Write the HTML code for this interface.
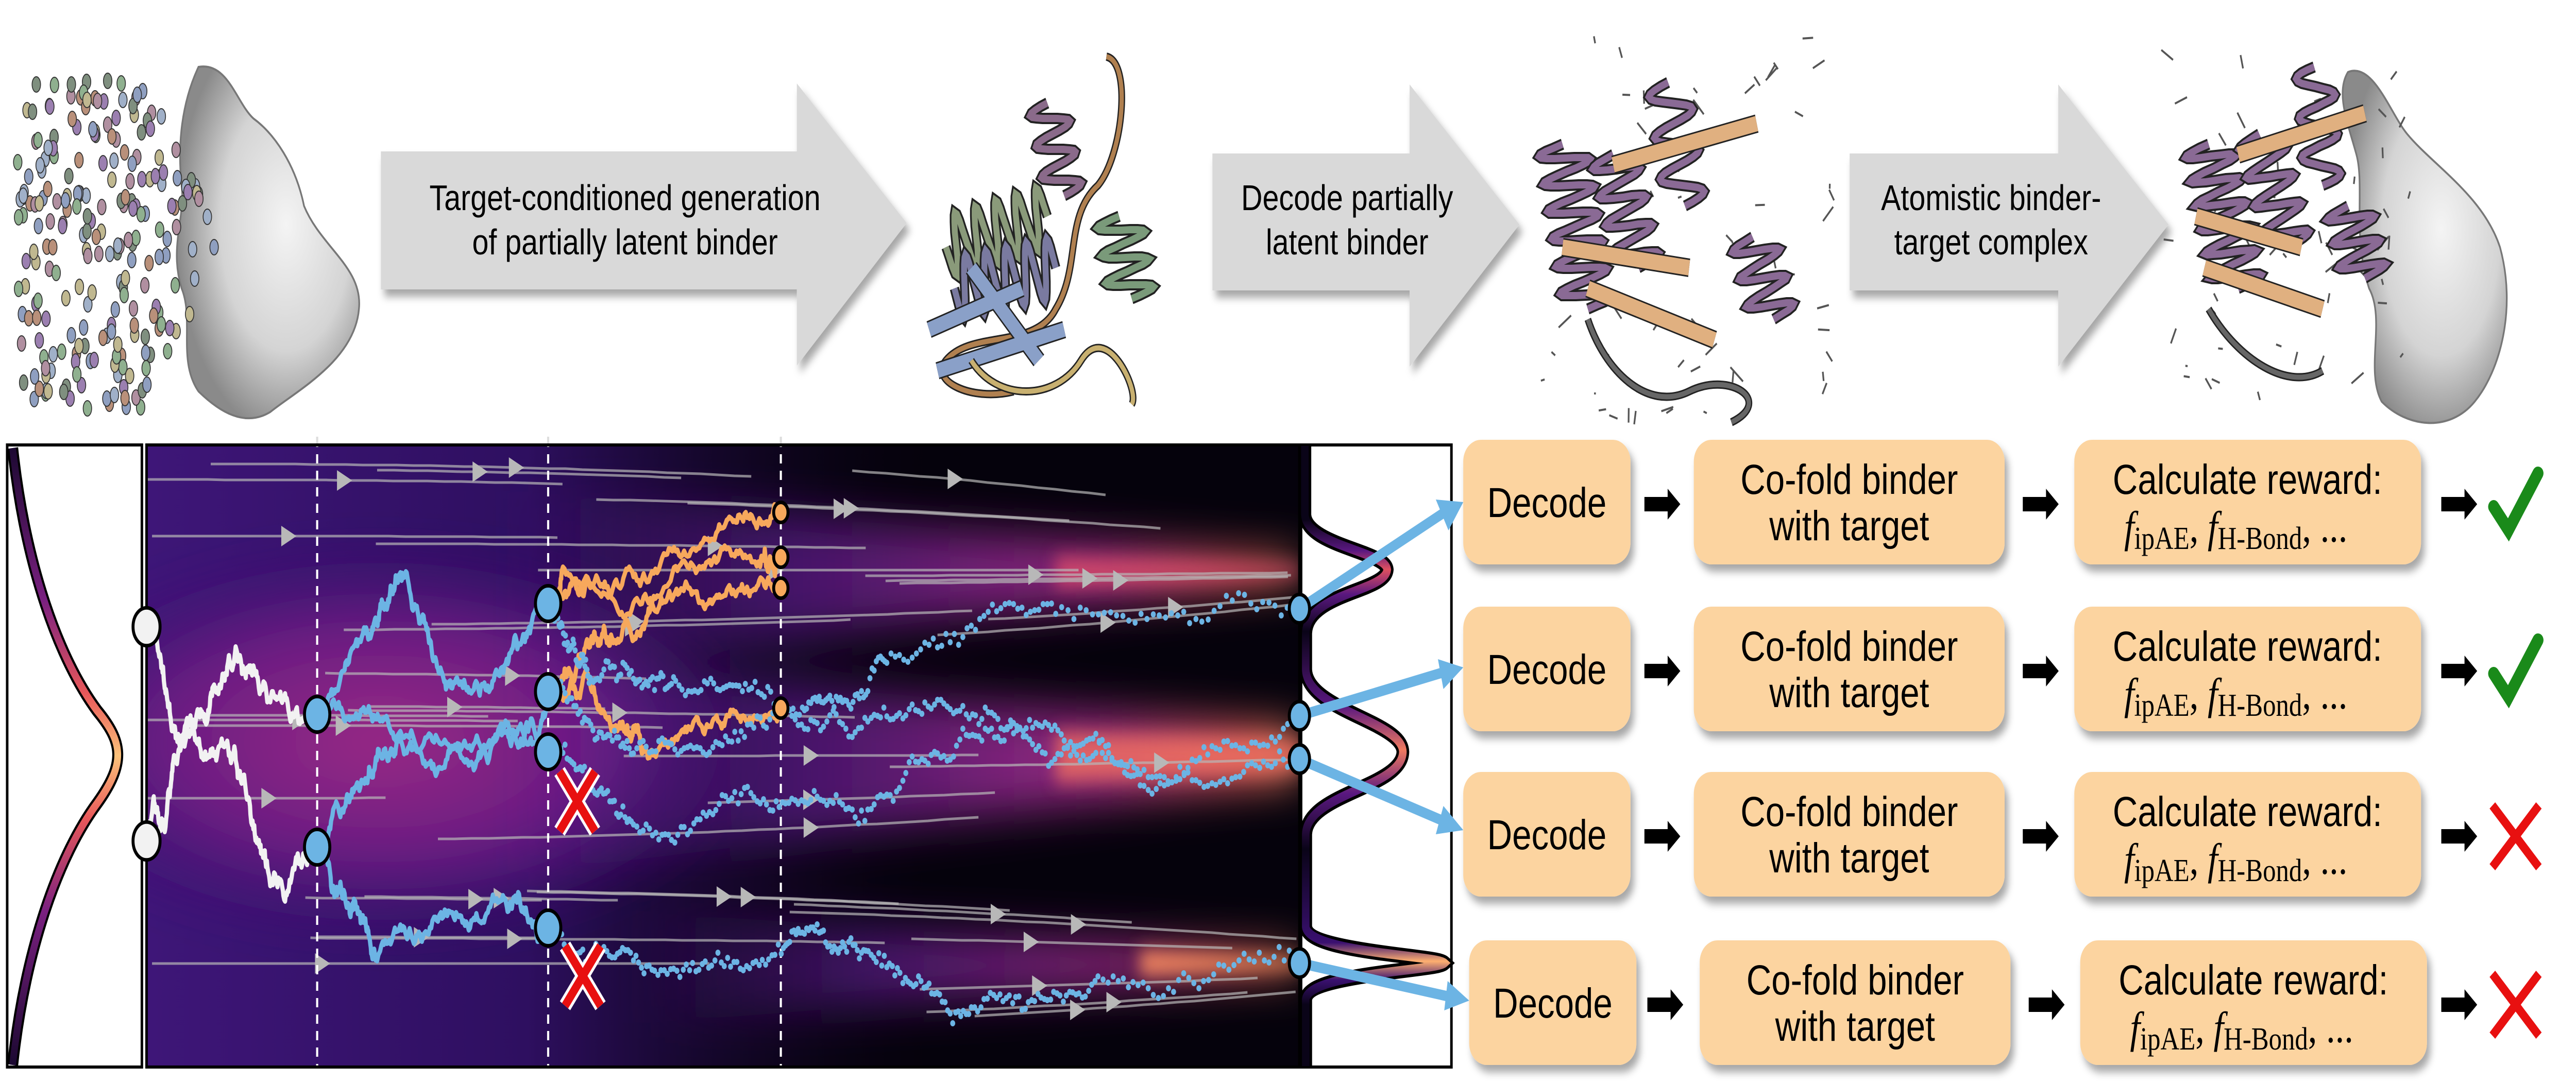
<!DOCTYPE html>
<html><head><meta charset="utf-8"><style>
html,body{margin:0;padding:0;background:#fff;width:100%;height:100%;overflow:hidden;}
svg{display:block;position:absolute;left:0;top:0;width:100vw;height:100vh;}
.bt{font-family:"Liberation Sans",sans-serif;font-size:82px;fill:#000;}
.at{font-family:"Liberation Sans",sans-serif;font-size:70px;fill:#000;}
.mf{font-family:"Liberation Serif",serif;font-size:86px;fill:#000;}
</style></head><body>
<svg id="s" xmlns="http://www.w3.org/2000/svg" viewBox="0 0 6100 2103" preserveAspectRatio="none">
<defs>
<filter id="blur" x="-50%" y="-50%" width="200%" height="200%"><feGaussianBlur stdDeviation="45"/></filter>
<filter id="blur2" x="-50%" y="-50%" width="200%" height="200%"><feGaussianBlur stdDeviation="18"/></filter>
<filter id="sh" x="-5%" y="-5%" width="112%" height="125%"><feDropShadow dx="8" dy="14" stdDeviation="8" flood-color="#000" flood-opacity="0.35"/></filter>
<linearGradient id="bandg" x1="0" x2="1" y1="0" y2="0">
<stop offset="0" stop-color="#5a1a8a" stop-opacity="0"/>
<stop offset="0.35" stop-color="#5a1a8a" stop-opacity="0.7"/>
<stop offset="0.75" stop-color="#9a2a80"/>
<stop offset="0.95" stop-color="#f06a60"/>
<stop offset="1" stop-color="#ff9a70"/>
</linearGradient>
<linearGradient id="leftfade" x1="0" x2="1" y1="0" y2="0">
<stop offset="0" stop-color="#3e1678"/>
<stop offset="0.45" stop-color="#2e0f60"/>
<stop offset="0.75" stop-color="#140628" stop-opacity="0.6"/>
<stop offset="1" stop-color="#000" stop-opacity="0"/>
</linearGradient>
<radialGradient id="midg" cx="0.5" cy="0.5" r="0.5">
<stop offset="0" stop-color="#9a2a85"/>
<stop offset="0.6" stop-color="#681c82"/>
<stop offset="1" stop-color="#3a1270" stop-opacity="0"/>
</radialGradient>
<linearGradient id="ldens" x1="0" x2="0" y1="864" y2="2072" gradientUnits="userSpaceOnUse">
<stop offset="0" stop-color="#1a0830"/>
<stop offset="0.25" stop-color="#7a2080"/>
<stop offset="0.4" stop-color="#e8585a"/>
<stop offset="0.5" stop-color="#fcc27a"/>
<stop offset="0.6" stop-color="#e8585a"/>
<stop offset="0.75" stop-color="#7a2080"/>
<stop offset="1" stop-color="#1a0830"/>
</linearGradient>
<linearGradient id="rdens" x1="0" x2="0" y1="864" y2="2072" gradientUnits="userSpaceOnUse">
<stop offset="0.12" stop-color="#0a0418"/>
<stop offset="0.17" stop-color="#5a1880"/>
<stop offset="0.2" stop-color="#e05060"/>
<stop offset="0.24" stop-color="#5a1880"/>
<stop offset="0.3" stop-color="#0a0418"/>
<stop offset="0.42" stop-color="#5a1880"/>
<stop offset="0.49" stop-color="#f07a60"/>
<stop offset="0.56" stop-color="#5a1880"/>
<stop offset="0.65" stop-color="#0a0418"/>
<stop offset="0.8" stop-color="#3a1070"/>
<stop offset="0.83" stop-color="#ffb070"/>
<stop offset="0.86" stop-color="#3a1070"/>
<stop offset="0.9" stop-color="#0a0418"/>
</linearGradient>
<radialGradient id="surf" cx="0.6" cy="0.45" r="0.6">
<stop offset="0" stop-color="#f4f4f4"/>
<stop offset="0.6" stop-color="#d4d4d4"/>
<stop offset="1" stop-color="#8a8a8a"/>
</radialGradient>
<clipPath id="mainclip"><rect x="347" y="864" width="2730" height="1208"/></clipPath>
<clipPath id="all"><rect x="0" y="0" width="6100" height="2103"/></clipPath>
</defs>
<g clip-path="url(#all)">
<g filter="url(#sh)" fill="#d9d9d9">
<polygon points="902,294 1887,294 1887,162 2147,433 1887,710 1887,562 902,562"/>
<polygon points="2871,298 3338,298 3338,164 3598,436 3338,712 3338,564 2871,564"/>
<polygon points="4380,298 4874,298 4874,164 5135,436 4874,712 4874,564 4380,564"/>
</g>
<text class="at" x="1480" y="408" text-anchor="middle">Target-conditioned generation</text>
<text class="at" x="1480" y="494" text-anchor="middle">of partially latent binder</text>
<text class="at" x="3190" y="408" text-anchor="middle">Decode partially</text>
<text class="at" x="3190" y="494" text-anchor="middle">latent binder</text>
<text class="at" x="4715" y="408" text-anchor="middle">Atomistic binder-</text>
<text class="at" x="4715" y="494" text-anchor="middle">target complex</text>

<path d="M470,130 C540,120 560,200 600,230 C650,260 700,320 720,400 C760,480 860,520 850,600 C840,700 700,760 640,800 C580,830 520,800 470,760 C420,700 460,620 430,560 C400,480 440,420 430,360 C420,280 430,200 470,130Z" fill="url(#surf)" stroke="#777" stroke-width="4"/>
<path d="M5560,140 C5620,120 5660,220 5700,260 C5760,320 5880,380 5920,480 C5960,600 5920,720 5860,780 C5800,840 5700,830 5640,780 C5600,720 5650,620 5610,560 C5570,460 5600,360 5580,300 C5560,240 5530,180 5560,140Z" fill="url(#surf)" stroke="#777" stroke-width="4"/>
<g id="spheres"></g>
<g id="prots"></g>

<rect x="17" y="864" width="319" height="1208" fill="#fff" stroke="#000" stroke-width="6"/>
<path d="M30,870 C60,1100 140,1280 230,1380 C290,1440 300,1480 230,1560 C140,1660 60,1840 30,2068" fill="none" stroke="#000" stroke-width="26"/>
<path d="M30,870 C60,1100 140,1280 230,1380 C290,1440 300,1480 230,1560 C140,1660 60,1840 30,2068" fill="none" stroke="url(#ldens)" stroke-width="16"/>

<g clip-path="url(#mainclip)">
<rect x="347" y="864" width="2730" height="1208" fill="#05020c"/>
<rect x="347" y="864" width="2000" height="1208" fill="url(#leftfade)"/>
<ellipse cx="900" cy="1440" rx="900" ry="380" fill="url(#midg)" filter="url(#blur)"/>
<g filter="url(#blur)">
<polygon points="1200,950 3077,1090 3077,1125 1200,1300" fill="url(#bandg)"/>
<polygon points="1200,1280 3077,1420 3077,1510 1200,1700" fill="url(#bandg)"/>
<polygon points="1500,1770 3077,1855 3077,1885 1500,1990" fill="url(#bandg)"/>
</g>
<g filter="url(#blur2)">
<polygon points="2500,1080 3077,1098 3077,1118 2500,1140" fill="#e0506a" opacity="0.8"/>
<polygon points="2500,1420 3077,1440 3077,1495 2500,1520" fill="#f07060" opacity="0.8"/>
<polygon points="2700,1845 3077,1860 3077,1880 2700,1895" fill="#ff9060" opacity="0.9"/>
</g>
<g id="stream"></g>
<g stroke="#fff" stroke-width="5" stroke-dasharray="18 14">
<line x1="751" y1="850" x2="751" y2="2072"/><line x1="1298" y1="850" x2="1298" y2="2072"/><line x1="1849" y1="850" x2="1849" y2="2072"/>
</g>
<g id="walks"></g>
</g>
<g stroke="#ddd" stroke-width="5" stroke-dasharray="18 14">
<line x1="751" y1="848" x2="751" y2="864"/><line x1="1298" y1="848" x2="1298" y2="864"/><line x1="1849" y1="848" x2="1849" y2="864"/>
</g>
<rect x="347" y="864" width="2730" height="1208" fill="none" stroke="#000" stroke-width="6"/>

<rect x="3081" y="864" width="356" height="1208" fill="#fff" stroke="#000" stroke-width="6"/>
<path d="M3090,866 L3090,1000 C3095,1060 3280,1070 3285,1106 C3280,1150 3095,1150 3092,1230 L3092,1300 C3095,1380 3320,1400 3322,1460 C3320,1530 3095,1540 3092,1620 L3092,1800 C3100,1850 3400,1855 3420,1870 C3400,1885 3100,1890 3092,1940 L3092,2070" fill="none" stroke="#000" stroke-width="30"/>
<path d="M3090,866 L3090,1000 C3095,1060 3280,1070 3285,1106 C3280,1150 3095,1150 3092,1230 L3092,1300 C3095,1380 3320,1400 3322,1460 C3320,1530 3095,1540 3092,1620 L3092,1800 C3100,1850 3400,1855 3420,1870 C3400,1885 3100,1890 3092,1940 L3092,2070" fill="none" stroke="url(#rdens)" stroke-width="18"/>

<g stroke="#6cb4e4" stroke-width="20" fill="#6cb4e4">
<line x1="3077" y1="1182" x2="3420" y2="995"/>
<line x1="3077" y1="1390" x2="3420" y2="1305"/>
<line x1="3077" y1="1474" x2="3420" y2="1595"/>
<line x1="3077" y1="1870" x2="3430" y2="1935"/>
</g>
<g fill="#6cb4e4">
<polygon points="3465,975 3400,970 3430,1030"/>
<polygon points="3465,1296 3405,1280 3418,1338"/>
<polygon points="3465,1612 3418,1565 3400,1620"/>
<polygon points="3479,1943 3428,1905 3420,1962"/>
</g>
<g id="ends"></g>
<g id="boxes"></g>
</g>
</svg>
<script>
var NS="http://www.w3.org/2000/svg";
function el(p,t,a){var e=document.createElementNS(NS,t);for(var k in a)e.setAttribute(k,a[k]);p.appendChild(e);return e;}
var seed=12345;function r(){seed=(seed*16807)%2147483647;return (seed-1)/2147483646;}
var $=function(id){return document.getElementById(id);};

var rows=[[854,0],[1178,0],[1499,0],[1826,14]];
var B=$("boxes");
rows.forEach(function(rw,i){
 var y=rw[0],dx=rw[1],h=242;
 var g=el(B,"g",{});
 [[3465,396],[4011,736],[4912,821]].forEach(function(b){el(g,"rect",{x:b[0]+dx,y:y,width:b[1],height:h,rx:42,fill:"#fcd4a0",filter:"url(#sh)"});});
 el(g,"text",{x:3663+dx,y:y+150,"text-anchor":"middle","class":"bt"}).textContent="Decode";
 el(g,"text",{x:4379+dx,y:y+105,"text-anchor":"middle","class":"bt"}).textContent="Co-fold binder";
 el(g,"text",{x:4379+dx,y:y+195,"text-anchor":"middle","class":"bt"}).textContent="with target";
 el(g,"text",{x:5322+dx,y:y+105,"text-anchor":"middle","class":"bt"}).textContent="Calculate reward:";
 var t=el(g,"text",{x:5030+dx,y:y+198,"class":"mf"});
 t.innerHTML='<tspan font-style="italic">f</tspan><tspan font-size="62" dy="14">ipAE</tspan><tspan dy="-14">, </tspan><tspan font-style="italic">f</tspan><tspan font-size="62" dy="14">H-Bond</tspan><tspan dy="-14">, ...</tspan>';
 var cy=y+125;
 [[3894+dx/2],[4790+dx],[5781]].forEach(function(a){var x=a[0];el(g,"polygon",{points:(x)+","+(cy-14)+" "+(x+55)+","+(cy-14)+" "+(x+55)+","+(cy-30)+" "+(x+85)+","+cy+" "+(x+55)+","+(cy+30)+" "+(x+55)+","+(cy+14)+" "+x+","+(cy+14),fill:"#000"});});
 if(i<2){el(g,"path",{d:"M5905,"+(cy+5)+" L5940,"+(cy+50)+" L6010,"+(cy-60),fill:"none",stroke:"#1a8a1a","stroke-width":26,"stroke-linecap":"round"});}
 else{drawX(g,5957,cy,55,60);}
});
function drawX(g,cx,cy,w,h){
 ["#fff","#e81010"].forEach(function(c,k){var sw=k?18:30;
 el(g,"line",{x1:cx-w,y1:cy-h,x2:cx+w,y2:cy+h,stroke:c,"stroke-width":sw});
 el(g,"line",{x1:cx+w,y1:cy-h,x2:cx-w,y2:cy+h,stroke:c,"stroke-width":sw});});
}

var S=$("stream");var att=[1106,1460,1870];
for(var i=0;i<40;i++){
 var xs=347+r()*2200-200, ys=870+r()*1200, len=500+r()*900;
 var xe=Math.min(3077,xs+len);
 var tgt=att.reduce(function(a,b){return Math.abs(b-ys)<Math.abs(a-ys)?b:a;});
 var pts=[];
 for(var x=xs;x<=xe;x+=40){var t=(x-347)/2730;t=Math.max(0,t);var y=ys+(tgt-ys)*Math.pow(t,2.5)*0.6;pts.push(x.toFixed(0)+","+y.toFixed(0));}
 el(S,"polyline",{points:pts.join(" "),fill:"none",stroke:"#b8b8b8","stroke-width":5,opacity:0.7});
 var mi=Math.floor(pts.length*(0.3+r()*0.4));var p=pts[mi]?pts[mi].split(","):null;
 if(p){var px=+p[0],py=+p[1];el(S,"polygon",{points:(px-14)+","+(py-20)+" "+(px+22)+","+py+" "+(px-14)+","+(py+20),fill:"#b8b8b8"});}
}

var W=$("walks");
function walk(wp,n,amp){var out=[];
 for(var s=0;s<wp.length-1;s++){var a=wp[s],b=wp[s+1];var ws=[0],w=0;for(var i=1;i<=n;i++){w+=(r()-0.5)*amp;ws.push(w);}
  for(var i=(s?1:0);i<=n;i++){var t=i/n;out.push([a[0]+(b[0]-a[0])*t,a[1]+(b[1]-a[1])*t+ws[i]-t*ws[n]]);}}
 return out;}
function line(wp,c,n,amp){el(W,"polyline",{points:walk(wp,n,amp).map(function(p){return p[0].toFixed(0)+","+p[1].toFixed(0);}).join(" "),fill:"none",stroke:c,"stroke-width":10,"stroke-linejoin":"round"});}
function dots(wp,n,amp){walk(wp,n,amp).forEach(function(p){el(W,"circle",{cx:p[0].toFixed(0),cy:(p[1]+(r()-0.5)*14).toFixed(0),r:6,fill:"#6cb4e4"});});}
var WH="#f2f2f2",BL="#6cb4e4",OR="#f7a85c";
line([[347,1217],[420,1440],[520,1330],[620,1340],[751,1387]],WH,60,30);
line([[347,1633],[410,1480],[540,1450],[640,1720],[751,1645]],WH,60,30);
line([[751,1387],[880,1230],[955,1122],[1060,1330],[1200,1280],[1298,1172]],BL,50,28);
line([[751,1387],[900,1400],[1050,1490],[1200,1420],[1298,1343]],BL,50,26);
line([[751,1645],[870,1520],[940,1430],[1150,1450],[1298,1460]],BL,50,26);
line([[751,1645],[830,1780],[890,1862],[1050,1780],[1200,1760],[1298,1802]],BL,50,26);
line([[1298,1172],[1330,1110],[1500,1120],[1700,1030],[1849,995]],OR,50,24);
line([[1298,1172],[1400,1140],[1600,1100],[1800,1100],[1849,1082]],OR,50,24);
line([[1298,1343],[1380,1320],[1480,1420],[1540,1460],[1700,1400],[1849,1375]],OR,50,22);
line([[1298,1343],[1380,1280],[1450,1240],[1560,1180],[1700,1160],[1849,1142]],OR,50,22);
dots([[1298,1172],[1400,1320],[1600,1320],[1900,1380],[2100,1280],[2500,1190],[3077,1182]],40,30);
dots([[1298,1343],[1500,1460],[1800,1400],[2100,1390],[2400,1420],[2700,1500],[3077,1390]],40,30);
dots([[1298,1460],[1500,1600],[1800,1560],[2100,1540],[2400,1410],[2700,1520],[3077,1474]],40,30);
dots([[1298,1802],[1550,1880],[1850,1850],[2050,1840],[2300,1960],[2600,1900],[3077,1870]],40,30);
function circ(p,x,y,rr,f){el(p,"ellipse",{cx:x,cy:y,rx:rr,ry:rr*1.15,fill:f,stroke:"#000","stroke-width":7});}
circ(W,751,1387,30,BL);circ(W,751,1645,30,BL);
circ(W,1298,1172,30,BL);circ(W,1298,1343,30,BL);circ(W,1298,1460,30,BL);circ(W,1298,1802,30,BL);
[995,1082,1142,1375].forEach(function(y){circ(W,1849,y,17,OR);});
drawX(W,1367,1556,42,58);drawX(W,1380,1895,42,58);
var E=$("ends");
circ(E,347,1217,32,"#f2f2f2");circ(E,347,1633,32,"#f2f2f2");
[1182,1390,1474,1870].forEach(function(y){circ(E,3077,y,24,BL);});

var SP=$("spheres");var cols=["#9b7fb0","#8f9fc0","#b9907a","#8fb08f","#c0b890","#7f8f7f","#a0b0c8","#b08fa0"];
for(var i=0;i<230;i++){var y=150+r()*650;var dx=Math.abs(y-470)/330;var x=20+r()*(520-dx*250)+dx*40;
 el(SP,"ellipse",{cx:x.toFixed(0),cy:y.toFixed(0),rx:10,ry:15,fill:cols[i%8],stroke:"#333","stroke-width":2});}
var P=$("prots");
function helix(x0,y0,x1,y1,turns,w,c){var pts=[];var n=turns*16;for(var i=0;i<=n;i++){var t=i/n;var x=x0+(x1-x0)*t,y=y0+(y1-y0)*t;var dx=-(y1-y0),dy=(x1-x0);var L=Math.hypot(dx,dy);var s=Math.sin(t*turns*2*Math.PI)*w;pts.push((x+dx/L*s).toFixed(0)+","+(y+dy/L*s).toFixed(0));}
 el(P,"polyline",{points:pts.join(" "),fill:"none",stroke:"#222","stroke-width":22});el(P,"polyline",{points:pts.join(" "),fill:"none",stroke:c,"stroke-width":14});}
function coil(pts,c,w){el(P,"path",{d:pts,fill:"none",stroke:"#222","stroke-width":w+6});el(P,"path",{d:pts,fill:"none",stroke:c,"stroke-width":w});}
function sticks(cx,cy,rw,rh,n){for(var i=0;i<n;i++){var x=cx+(r()-0.5)*rw,y=cy+(r()-0.5)*rh;el(P,"line",{x1:x,y1:y,x2:x+(r()-0.5)*60,y2:y+(r()-0.5)*60,stroke:"#555","stroke-width":4});}}
coil("M2620,110 C2680,120 2660,300 2600,360 C2520,420 2560,520 2500,600 C2450,680 2300,640 2240,700 C2200,740 2300,780 2400,760","#b08050",10);
helix(2240,480,2480,420,5,60,"#8a9a7a");helix(2260,560,2500,520,5,60,"#7a7aa0");
helix(2480,200,2520,380,3,45,"#8a6a8a");helix(2650,420,2680,580,3,55,"#7a9a7a");
coil("M2200,640 L2420,560 M2300,520 L2460,700 M2220,720 L2520,640","#8aa0c8",28);
coil("M2300,700 C2360,780 2500,780 2560,700 C2620,620 2700,760 2680,785","#c8b070",10);
sticks(4000,450,700,760,60);
helix(3700,280,3760,600,6,60,"#8a6a95");helix(3820,300,3880,520,4,55,"#8a6a95");helix(3950,160,3990,400,3,50,"#8a6a95");
helix(4150,460,4200,620,3,55,"#8a6a95");
coil("M3700,480 L4000,520 M3760,560 L4060,660 M3820,320 L4160,240","#e0b080",30);
coil("M3760,620 C3800,720 3900,800 4000,760 C4100,720 4200,780 4100,820","#666",10);
sticks(5430,450,600,700,50);
helix(5230,280,5300,560,6,60,"#8a6a95");helix(5350,260,5420,480,4,55,"#8a6a95");helix(5480,130,5500,360,3,45,"#8a6a95");
helix(5560,400,5600,540,3,55,"#8a6a95");
coil("M5200,420 L5450,480 M5220,520 L5500,600 M5300,300 L5600,220","#e0b080",30);
coil("M5230,600 C5300,700 5420,760 5500,720","#666",10);
</script>
</body></html>
